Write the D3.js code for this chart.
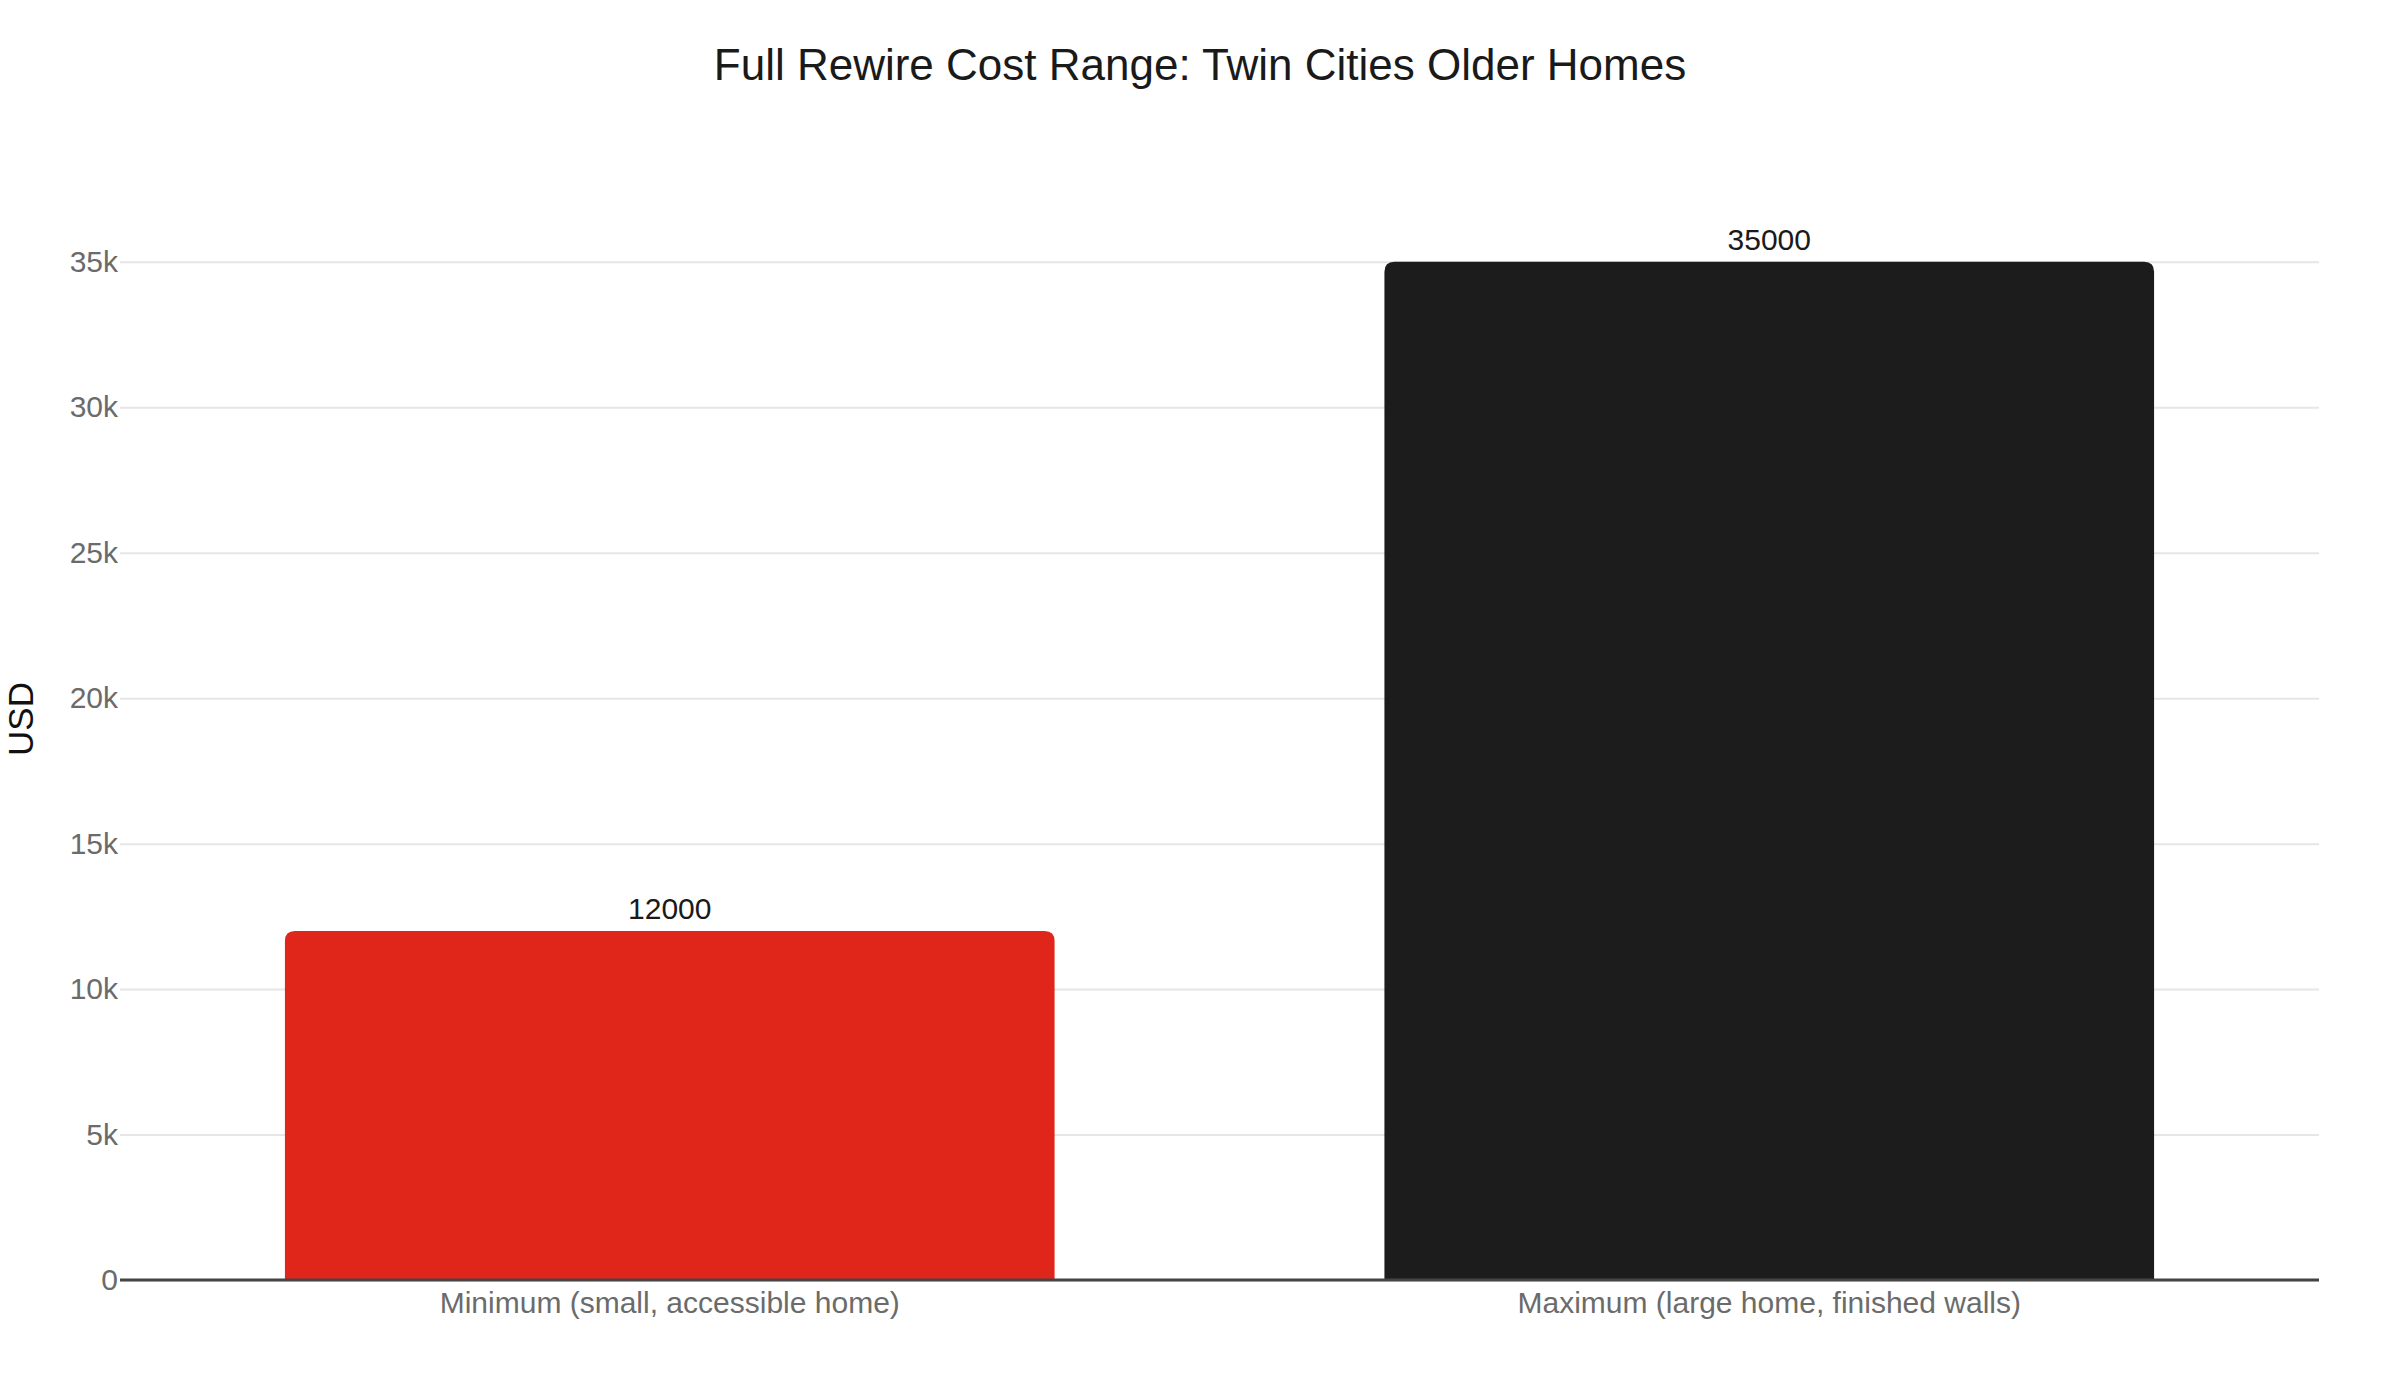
<!DOCTYPE html>
<html>
<head>
<meta charset="utf-8">
<script src="https://cdn.jsdelivr.net/npm/d3@7"></script>
<style>
	body { margin: 0; background: #fff; }
	text { font-family: "Liberation Sans", Arial, sans-serif; }
</style>
</head>
<body>
<div id="chart"></div>
<script>
// data
var categories = ["Minimum (small, accessible home)", "Maximum (large home, finished walls)"];
var costs = [12000, 35000];
var barColors = ["#e0251b", "#1c1c1c"];
var yTicks = [0, 5000, 10000, 15000, 20000, 25000, 30000, 35000];
var yMax = 38570;

drawchart()

function drawchart() {
	var W = 2400, H = 1400;
	var margin = { top: 158, right: 81, bottom: 120, left: 120 };

	var svg = d3.select("#chart")
		.append("svg")
		.attr("width", W)
		.attr("height", H);

	var x = d3.scaleBand()
		.domain(categories)
		.range([margin.left, W - margin.right])
		.paddingInner(0.3)
		.paddingOuter(0.15);

	var y = d3.scaleLinear()
		.domain([0, yMax])
		.range([H - margin.bottom, margin.top]);

	// gridlines + tick labels
	var yAxis = svg.append("g")
		.attr("transform", `translate(${margin.left},0)`)
		.call(d3.axisLeft(y)
			.tickValues(yTicks)
			.tickSize(-(W - margin.left - margin.right))
			.tickPadding(2)
			.tickFormat(function(d) { return d === 0 ? "0" : (d / 1000) + "k"; }));
	yAxis.select(".domain").remove();
	yAxis.selectAll(".tick line")
		.attr("stroke", "#e6e6e6")
		.attr("stroke-width", 2);
	yAxis.selectAll(".tick text")
		.attr("fill", "#6b6b6b")
		.style("font-size", "30px");

	// bars, top corners rounded
	var r = 10;
	svg.selectAll(".bar")
		.data(costs)
		.join("path")
		.attr("class", "bar")
		.attr("fill", function(d, i) { return barColors[i]; })
		.attr("d", function(d, i) {
			var x0 = x(categories[i]), x1 = x0 + x.bandwidth();
			var y0 = y(0), y1 = y(d);
			return `M${x0},${y0} L${x0},${y1 + r} Q${x0},${y1} ${x0 + r},${y1}` +
				` L${x1 - r},${y1} Q${x1},${y1} ${x1},${y1 + r} L${x1},${y0} Z`;
		});

	// value labels
	svg.selectAll(".vlabel")
		.data(costs)
		.join("text")
		.attr("class", "vlabel")
		.attr("x", function(d, i) { return x(categories[i]) + x.bandwidth() / 2; })
		.attr("y", function(d) { return y(d) - 12; })
		.attr("text-anchor", "middle")
		.attr("fill", "#1a1a1a")
		.style("font-size", "30px")
		.text(function(d) { return d; });

	// zero line
	svg.append("line")
		.attr("x1", margin.left)
		.attr("x2", W - margin.right)
		.attr("y1", y(0))
		.attr("y2", y(0))
		.attr("stroke", "#444")
		.attr("stroke-width", 3);

	// category labels
	var xAxis = svg.append("g")
		.attr("transform", `translate(0,${y(0)})`)
		.call(d3.axisBottom(x).tickSize(0).tickPadding(0));
	xAxis.select(".domain").remove();
	xAxis.selectAll(".tick text")
		.attr("dy", null)
		.attr("y", 33)
		.attr("fill", "#6b6b6b")
		.style("font-size", "30px");

	// axis title
	svg.append("text")
		.attr("transform", `translate(${33},${(margin.top + H - margin.bottom) / 2}) rotate(-90)`)
		.attr("text-anchor", "middle")
		.attr("fill", "#111")
		.style("font-size", "35px")
		.text("USD");

	// title
	svg.append("text")
		.attr("x", W / 2)
		.attr("y", 80)
		.attr("text-anchor", "middle")
		.attr("fill", "#1a1a1a")
		.style("font-size", "44px")
		.text("Full Rewire Cost Range: Twin Cities Older Homes");
}
</script>
</body>
</html>
